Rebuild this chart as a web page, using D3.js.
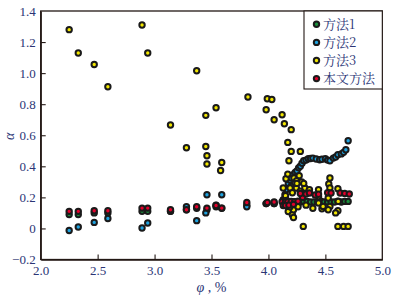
<!DOCTYPE html>
<html><head><meta charset="utf-8">
<script src="https://cdn.jsdelivr.net/npm/d3@7"></script>
<style>body{margin:0;background:#fff}svg{display:block}</style>
</head><body>
<svg id="c" width="402" height="296"></svg>
<script>
const seriesNames = ["方法1","方法2","方法3","本文方法"];
const seriesColors = ["#1b8f3c","#1ea2df","#f2e600","#e3002b"];
const xTicks = [2.0,2.5,3.0,3.5,4.0,4.5,5.0];
const yTicks = [-0.2,0,0.2,0.4,0.6,0.8,1.0,1.2,1.4];

const method1 = [
 [2.25,0.09],[2.33,0.09],[2.47,0.10],[2.59,0.10],[2.89,0.11],[2.94,0.11],[3.14,0.11],
 [3.28,0.12],[3.37,0.13],[3.46,0.12],[3.54,0.14],[3.59,0.13],[3.81,0.15],[3.98,0.16],[4.05,0.16],
 [4.13,0.17],[4.16,0.17],[4.19,0.17],[4.22,0.17],[4.25,0.17],[4.28,0.17],[4.31,0.174],[4.34,0.174],
 [4.37,0.17],[4.40,0.17],[4.43,0.17],[4.46,0.175],[4.49,0.17],[4.52,0.17],[4.55,0.17],[4.58,0.17],
 [4.61,0.175],[4.64,0.17],[4.67,0.174],[4.70,0.174]
];
const method2 = [
 [2.25,-0.013],[2.33,0.009],[2.47,0.039],[2.59,0.064],[2.89,0.003],[2.94,0.035],[3.14,0.11],
 [3.28,0.14],[3.37,0.05],[3.46,0.217],[3.45,0.10],[3.54,0.15],[3.59,0.217],[3.81,0.14],[3.98,0.16],[4.05,0.16],
 [4.13,0.185],[4.145,0.217],[4.16,0.25],[4.175,0.29],[4.19,0.31],[4.20,0.325],[4.218,0.346],[4.235,0.36],
 [4.25,0.37],[4.265,0.39],[4.28,0.40],[4.295,0.42],[4.31,0.436],[4.33,0.44],[4.35,0.449],[4.37,0.45],
 [4.39,0.453],[4.42,0.447],[4.45,0.442],[4.47,0.445],[4.50,0.449],[4.52,0.44],[4.54,0.436],[4.57,0.453],
 [4.59,0.46],[4.61,0.475],[4.64,0.48],[4.66,0.49],[4.68,0.507],[4.70,0.565],[4.20,0.27]
];
const method3 = [
 [2.25,1.28],[2.33,1.13],[2.47,1.056],[2.59,0.912],[2.89,1.31],[2.94,1.13],[3.37,1.015],
 [3.82,0.846],[3.99,0.835],[4.03,0.83],[3.98,0.764],[3.54,0.777],[3.45,0.728],[3.14,0.666],
 [3.28,0.52],[3.45,0.528],[3.46,0.468],[3.46,0.415],[3.59,0.425],[3.58,0.373],
 [4.05,0.70],[4.12,0.732],[4.14,0.674],[4.20,0.636],[4.17,0.554],[4.20,0.496],[4.28,0.496],[4.18,0.436],
 [4.154,0.32],[4.224,0.325],[4.248,0.307],[4.292,0.30],[4.13,0.26],[4.19,0.26],[4.245,0.26],[4.32,0.26],
 [4.15,0.21],[4.16,0.18],[4.174,0.109],[4.21,0.088],[4.22,0.07],[4.306,0.013],
 [4.25,0.29],[4.31,0.29],[4.36,0.25],[4.44,0.25],[4.39,0.13],[4.47,0.127],[4.22,0.12],
 [4.17,0.35],[4.27,0.34],[4.21,0.23],[4.28,0.24],[4.33,0.15],[4.26,0.14],[4.19,0.14],
 [4.54,0.325],[4.53,0.286],[4.54,0.26],[4.61,0.256],[4.44,0.205],[4.525,0.196],[4.613,0.174],
 [4.44,0.164],[4.48,0.142],[4.54,0.142],[4.61,0.114],[4.525,0.12],[4.59,0.10],
 [4.61,0.013],[4.66,0.013],[4.70,0.013]
];
const method4 = [
 [2.25,0.11],[2.33,0.11],[2.47,0.114],[2.59,0.114],[2.89,0.131],[2.94,0.131],[3.14,0.12],
 [3.28,0.12],[3.37,0.14],[3.46,0.131],[3.54,0.148],[3.59,0.131],[3.81,0.167],[3.99,0.167],[4.05,0.17],
 [4.12,0.172],[4.15,0.174],[4.17,0.172],[4.20,0.174],[4.23,0.172],[4.26,0.175],[4.13,0.148],[4.15,0.148],
 [4.18,0.15],[4.22,0.155],[4.30,0.2],
 [4.28,0.225],[4.33,0.222],[4.36,0.228],[4.41,0.215],[4.44,0.22],[4.52,0.23],[4.55,0.228],
 [4.63,0.228],[4.67,0.225],[4.71,0.222]
];
const allSeries = [method1, method2, method3, method4];

const svg = d3.select("#c");
const x = d3.scaleLinear().domain([2,5]).range([40.7,382.3]);
const y = d3.scaleLinear().domain([-0.2,1.4]).range([259.5,11]);
const ink = "#231815", lab = "#2b3575";

svg.append("rect").attr("x",x(2)).attr("y",y(1.4)).attr("width",x(5)-x(2)).attr("height",y(-0.2)-y(1.4))
  .attr("fill","none").attr("stroke",ink).attr("stroke-width",1.3);

const fmtY = d => d===0 ? "0" : d3.format(".1f")(d);
const xa = svg.append("g").attr("transform",`translate(0,${y(-0.2)})`)
  .call(d3.axisBottom(x).tickValues(xTicks).tickFormat(d3.format(".1f")).tickSizeInner(-5).tickSizeOuter(0).tickPadding(6));
const ya = svg.append("g").attr("transform",`translate(${x(2)},0)`)
  .call(d3.axisLeft(y).tickValues(yTicks).tickFormat(fmtY).tickSizeInner(-5).tickSizeOuter(0).tickPadding(5));
[xa,ya].forEach(g=>{
  g.select(".domain").attr("stroke",ink).attr("stroke-width",1.3);
  g.selectAll(".tick line").attr("stroke",ink).attr("stroke-width",1.1);
  g.selectAll(".tick text").attr("fill",lab).attr("font-family","'Liberation Serif','Times New Roman',serif").attr("font-size",13);
});
ya.selectAll(".tick").filter(d=>d===1.4||d===-0.2).select("line").remove();
xa.selectAll(".tick").filter(d=>d===2||d===5).select("line").remove();

svg.append("text").attr("transform",`translate(14,${y(0.6)+1}) rotate(-90)`).attr("text-anchor","middle")
  .attr("font-family","'Liberation Serif',serif").attr("font-style","italic").attr("font-size",14).attr("fill",lab).text("α");
svg.append("text").attr("x",x(3.5)).attr("y",292).attr("text-anchor","middle")
  .attr("font-family","'Liberation Serif',serif").attr("font-size",14).attr("fill",lab)
  .html('<tspan font-style="italic">φ</tspan> , %');

allSeries.forEach((data,i)=>{
  svg.append("g").selectAll("circle").data(data).join("circle")
    .attr("cx",d=>x(d[0])).attr("cy",d=>y(d[1])).attr("r",2.7)
    .attr("fill",seriesColors[i]).attr("stroke","#1a1a1a").attr("stroke-width",2);
});

const lg = svg.append("g");
lg.append("rect").attr("x",304).attr("y",y(1.4)).attr("width",x(5)-304).attr("height",89-y(1.4))
  .attr("fill","#fff").attr("stroke",ink).attr("stroke-width",1.1);
seriesNames.forEach((n,i)=>{
  const yy = 24.3 + i*18.1;
  lg.append("circle").attr("cx",316.5).attr("cy",yy).attr("r",2.7).attr("fill",seriesColors[i])
    .attr("stroke","#1a1a1a").attr("stroke-width",2);
  lg.append("text").attr("x",323).attr("y",yy+4.8).attr("font-family","'Noto Serif CJK SC','Noto Sans CJK SC',serif")
    .attr("font-size",13).attr("fill",lab).text(n);
});
</script>
</body></html>
